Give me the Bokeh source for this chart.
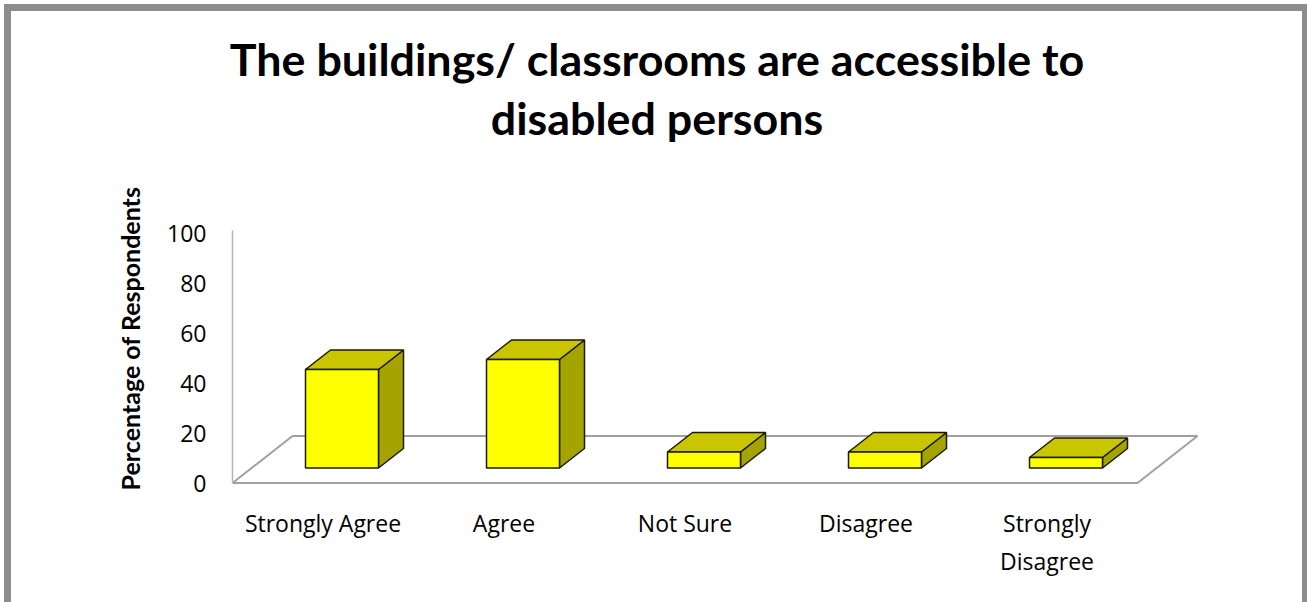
import math
from bokeh.plotting import figure
from bokeh.models import FixedTicker, Range1d, Label
from bokeh.embed import file_html
from bokeh.resources import INLINE

# ---------------- data ----------------
categories = ["Strongly Agree", "Agree", "Not Sure", "Disagree", "Strongly Disagree"]
category_labels = ["Strongly Agree", "Agree", "Not Sure", "Disagree", "Strongly\nDisagree"]
values = [39.4, 43.4, 6.4, 6.4, 4.2]
y_ticks = [0, 20, 40, 60, 80, 100]
title_lines = ["The buildings/ classrooms are accessible to", "disabled persons"]
y_label = "Percentage of Respondents"

# ---------------- 3D projection geometry (in axis units) ----------------
PX_X = 181.0          # pixels per category
PX_Y = 2.5            # pixels per percent
FLOOR_DX = 60 / PX_X  # floor depth, horizontal component
FLOOR_DY = 47 / PX_Y  # floor depth, vertical component
BASE_DX = 19 / PX_X   # bar front offset from the floor front edge
BASE_DY = 15 / PX_Y
BAR_W = 73 / PX_X
BAR_DX = 25 / PX_X    # bar depth
BAR_DY = 19.5 / PX_Y
WALL_TOP = 101

# ---------------- layout (canvas pixels) ----------------
W, H = 1303, 598
ML, MR = 100, 112     # side borders chosen so that the frame is centred on the chart
MT, MB = 0, 109
AXIS_X = 221          # canvas x of the value axis (front-left wall edge)
AXIS_Y0 = 471.5       # canvas y of the value 0 (front edge of the floor)
TITLE_BASELINES = [47.5, 106.5]
YLABEL_CENTER = (118, 327)

frame_w = W - ML - MR
frame_h = H - MT - MB
frame_bottom = H - MB
x0 = -(AXIS_X - ML) / PX_X
y0 = -(frame_bottom - AXIS_Y0) / PX_Y
x1 = x0 + frame_w / PX_X
y1 = y0 + frame_h / PX_Y

n = len(categories)

p = figure(width=W, height=H, output_backend="svg", toolbar_location=None,
           x_range=Range1d(x0, x1), y_range=Range1d(y0, y1),
           min_border_left=ML, min_border_right=MR, min_border_top=MT, min_border_bottom=MB,
           x_axis_location="below", y_axis_location="left")
p.outline_line_color = None
p.xgrid.visible = False
p.ygrid.visible = False
p.background_fill_color = "white"
p.border_fill_color = "white"
p.styles = {
    "border-top": "7px solid #8c8c8c",
    "border-left": "7px solid #8c8c8c",
    "border-right": "5px solid #8c8c8c",
    "margin-left": "4px",
    "margin-top": "4px",
}

def to_y(canvas_y):
    return y0 + (frame_bottom - canvas_y) / PX_Y

def to_x(canvas_x):
    return x0 + (canvas_x - ML) / PX_X

# title: two centred lines
for line, base in zip(title_lines, TITLE_BASELINES):
    p.add_layout(Label(x=(x0 + x1) / 2, y=to_y(base), text=line,
                       text_align="center", text_baseline="alphabetic",
                       text_font="Lato", text_font_style="bold", text_font_size="44.8px",
                       text_color="black"))

# value-axis title
p.add_layout(Label(x=to_x(YLABEL_CENTER[0]), y=to_y(YLABEL_CENTER[1]), text=y_label, angle=math.pi / 2,
                   text_align="center", text_baseline="middle",
                   text_font="Lato", text_font_style="bold", text_font_size="25px",
                   text_color="black"))

# y axis, pinned at the front-left wall edge
ya = p.yaxis[0]
ya.fixed_location = 0
ya.ticker = FixedTicker(ticks=y_ticks)
ya.axis_line_color = None
ya.major_tick_line_color = None
ya.minor_tick_line_color = None
ya.major_tick_out = 0
ya.major_tick_in = 0
ya.major_label_standoff = 26
ya.major_label_text_font = "Open Sans"
ya.major_label_text_font_size = "23px"
ya.major_label_text_color = "black"

# x axis (category labels at the front edge of the floor)
xa = p.xaxis[0]
tick_pos = [i + 0.5 for i in range(n)]
xa.ticker = FixedTicker(ticks=tick_pos)
xa.major_label_overrides = {tp: lab for tp, lab in zip(tick_pos, category_labels)}
xa.axis_line_color = None
xa.major_tick_line_color = None
xa.minor_tick_line_color = None
xa.major_tick_out = 0
xa.major_tick_in = 0
xa.major_label_standoff = 6
xa.major_label_text_font = "Open Sans"
xa.major_label_text_font_size = "23px"
xa.major_label_text_color = "black"
xa.major_label_text_line_height = 1.2

# floor (parallelogram) and wall edge
floor_xs = [0, FLOOR_DX, n + FLOOR_DX, n, 0]
floor_ys = [0, FLOOR_DY, FLOOR_DY, 0, 0]
p.line(floor_xs, floor_ys, line_color="#a0a0a0", line_width=2)
p.line([0, 0], [0, WALL_TOP], line_color="#b4b4b4", line_width=1.5)

# bars
lefts = [i + (1 - BAR_W) / 2 + BASE_DX for i in range(n)]
rights = [l + BAR_W for l in lefts]
bottoms = [BASE_DY] * n
tops = [BASE_DY + v for v in values]

side_xs = [[r, r + BAR_DX, r + BAR_DX, r] for r in rights]
side_ys = [[b, b + BAR_DY, tp + BAR_DY, tp] for b, tp in zip(bottoms, tops)]
top_xs = [[l, r, r + BAR_DX, l + BAR_DX] for l, r in zip(lefts, rights)]
top_ys = [[tp, tp, tp + BAR_DY, tp + BAR_DY] for tp in tops]

p.patches(side_xs, side_ys, fill_color="#A5A300", line_color="#1a1a00", line_width=1.5)
p.patches(top_xs, top_ys, fill_color="#C9C600", line_color="#1a1a00", line_width=1.5)
p.quad(left=lefts, right=rights, bottom=bottoms, top=tops,
       fill_color="#FFFF00", line_color="#1a1a00", line_width=1.5)

open("out.html", "w").write(file_html(p, INLINE))
